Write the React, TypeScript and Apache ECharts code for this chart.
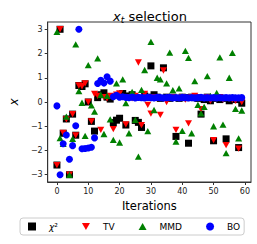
import React, { useEffect, useRef } from 'react';
import * as echarts from 'echarts';

const iterations = [
  0, 1, 2, 3, 4, 5, 6, 7, 8, 9, 10, 11, 12, 13, 14, 15, 16, 17, 18, 19,
  20, 21, 22, 23, 24, 25, 26, 27, 28, 29, 30, 31, 32, 33, 34, 35, 36, 37, 38, 39,
  40, 41, 42, 43, 44, 45, 46, 47, 48, 49, 50, 51, 52, 53, 54, 55, 56, 57, 58, 59,
];

const chi2Values = [
  -2.6, 3.0, -1.29, -0.7, -3.0, -0.5, -1.37, 0.68, 0.64, 0.75,
  0.0, -0.8, -1.2, 0.18, 0.3, 0.38, 0.2, 0.12, -0.85, -0.75,
  -0.67, 0.35, -0.95, 0.25, 0.3, -0.76, -0.84, -1.05, 0.25, 0.2,
  1.49, 0.3, 0.2, 0.15, 1.41, 0.2, 0.15, 0.2, -1.42, 0.15,
  0.2, 0.18, -1.7, 0.2, 0.18, 0.15, -0.5, 0.1, 0.2, 0.05,
  -1.6, 0.15, 0.1, 0.15, -1.52, 0.05, 0.15, 0.1, -1.88, -0.05,
];

const tvValues = [
  -2.6, 3.0, -1.27, -0.72, -3.0, -0.5, -1.38, 0.68, 0.65, 0.77,
  0.0, -0.8, 0.33, 0.25, -1.15, 0.2, 0.15, 0.25, -1.12, 0.3,
  0.35, 0.2, -0.92, 0.2, 0.15, 0.25, 1.63, -0.95, 0.33, -0.12,
  -0.48, 0.2, 0.15, -0.53, 1.3, 0.0, 0.15, 0.2, -1.15, 0.15,
  0.2, 0.1, -0.88, 0.2, 0.25, 0.2, -0.3, 0.15, 0.2, 0.05,
  -1.57, 0.15, 0.2, 0.1, -1.78, 0.15, 0.1, 0.05, -1.92, 0.0,
];

const mmdValues = [
  2.89, -1.49, -1.73, -0.6, -3.0, -1.52, 2.38, 0.45, -0.03, -1.4,
  1.52, -0.14, -0.4, 1.8, 0.3, -1.32, 0.25, -0.72, -1.56, 0.77,
  -1.67, 0.93, -0.05, -1.29, 0.42, -0.74, -2.25, 0.5, 1.32, -1.2,
  2.48, -0.33, 1.0, 0.93, 0.2, 0.77, 2.04, 0.49, -1.63, 0.56,
  -1.19, 2.11, 1.82, -1.29, 0.86, -0.12, -0.47, -0.2, 1.07, 0.25,
  -1.0, 0.38, 1.84, -0.93, -2.11, 1.0, 2.03, -0.28, -1.5, -0.35,
];

const boValues = [
  -0.16, -3.0, -1.72, -1.36, -2.36, -1.8, -0.98, 3.0, -1.93, -1.92,
  -1.9, -1.87, -1.48, 0.76, 0.9, 0.78, 1.04, 0.86, 0.22, 0.28,
  0.2, 0.22, 0.19, 0.18, 0.2, 0.17, 0.19, 0.18, 0.17, 0.19,
  0.18, 0.17, 0.19, 0.18, 0.17, 0.18, 0.19, 0.17, 0.18, 0.17,
  0.19, 0.18, 0.17, 0.18, 0.17, 0.18, 0.19, 0.17, 0.18, 0.17,
  0.18, 0.17, 0.18, 0.17, 0.18, 0.17, 0.18, 0.17, 0.17, 0.18,
];

const xTickValues = [0, 10, 20, 30, 40, 50, 60];
const yTickValues = [-3, -2, -1, 0, 1, 2, 3];

const seriesNames = ['χ²', 'TV', 'MMD', 'BO'];
const seriesColors = ['#000000', '#ff0000', '#008000', '#0000ff'];
const seriesSymbols = ['rect', 'path://M0,0L10,0L5,9Z', 'path://M5,0L10,9L0,9Z', 'circle'];
const seriesSizes = [7, 7, 7, 7];
const seriesValues = [chi2Values, tvValues, mmdValues, boValues];

const FONT = 'DejaVu Sans';
const fmt = (v: number) => String(v).replace('-', '\u2212');

export default function App() {
  const ref = useRef<HTMLDivElement>(null);

  useEffect(() => {
    if (!ref.current) return;
    const chart = echarts.init(ref.current, null, { renderer: 'svg' });
    chart.setOption({
      animation: false,
      backgroundColor: '#ffffff',
      title: {
        text: '{x|x}{t|t}{n| selection}',
        left: 145,
        top: 3,
        textAlign: 'center',
        textStyle: {
          fontFamily: FONT,
          fontSize: 13,
          fontWeight: 'normal',
          color: '#000',
          rich: {
            x: { fontFamily: FONT, fontSize: 13, fontStyle: 'italic', color: '#000', lineHeight: 16, verticalAlign: 'middle' },
            t: { fontFamily: FONT, fontSize: 9, fontStyle: 'italic', color: '#000', lineHeight: 9, verticalAlign: 'bottom' },
            n: { fontFamily: FONT, fontSize: 13, color: '#000', lineHeight: 16, verticalAlign: 'middle' },
          },
        },
      },
      grid: {
        left: 39,
        top: 22,
        width: 212,
        height: 160,
        show: true,
        borderColor: '#333',
        borderWidth: 1,
        containLabel: false,
      },
      legend: {
        left: 20,
        top: 218,
        orient: 'horizontal',
        data: seriesNames.map((name, i) => ({
          name,
          icon: seriesSymbols[i],
          itemStyle: { color: seriesColors[i] },
        })),
        itemWidth: 8,
        itemHeight: 8,
        itemGap: 24,
        padding: [4, 4, 4, 8],
        borderColor: '#cccccc',
        borderWidth: 1,
        borderRadius: 3,
        backgroundColor: '#ffffff',
        formatter: (name: string) => (name === 'χ²' ? '{it|χ}{sup|²}' : '{n|' + name + '}'),
        textStyle: {
          fontFamily: FONT,
          fontSize: 9,
          color: '#000',
          rich: {
            it: { fontFamily: FONT, fontSize: 9, fontStyle: 'italic', color: '#000' },
            sup: { fontFamily: FONT, fontSize: 9, color: '#000', padding: [0, 4, 0, 0] },
            n: { fontFamily: FONT, fontSize: 9, color: '#000' },
          },
          padding: [0, 0, 0, 8],
        },
      },
      xAxis: {
        type: 'value',
        min: -2.95,
        max: 61.95,
        name: 'Iterations',
        nameLocation: 'middle',
        nameGap: 17,
        nameTextStyle: { fontFamily: FONT, fontSize: 11.5, color: '#000' },
        splitLine: { show: false },
        axisLine: { show: true, onZero: false, lineStyle: { color: '#333', width: 1 } },
        axisTick: { show: true, inside: false, length: 3, lineStyle: { color: '#333' }, customValues: xTickValues },
        axisLabel: {
          show: true,
          margin: 5,
          fontFamily: FONT,
          fontSize: 8,
          color: '#222',
          customValues: xTickValues,
          formatter: fmt,
        },
      },
      yAxis: {
        type: 'value',
        min: -3.3,
        max: 3.3,
        name: 'x',
        nameLocation: 'middle',
        nameGap: 24,
        nameRotate: 90,
        nameTextStyle: { fontFamily: FONT, fontSize: 12, fontStyle: 'italic', color: '#000' },
        splitLine: { show: false },
        axisLine: { show: true, onZero: false, lineStyle: { color: '#333', width: 1 } },
        axisTick: { show: true, inside: false, length: 3, lineStyle: { color: '#333' }, customValues: yTickValues },
        axisLabel: {
          show: true,
          margin: 5,
          fontFamily: FONT,
          fontSize: 8,
          color: '#222',
          customValues: yTickValues,
          formatter: fmt,
        },
      },
      series: seriesNames.map((name, i) => ({
        name,
        type: 'scatter',
        symbol: seriesSymbols[i],
        symbolSize: seriesSizes[i],
        symbolKeepAspect: true,
        itemStyle: { color: seriesColors[i], opacity: 1 },
        emphasis: { disabled: true },
        data: iterations.map((it, j) => [it, seriesValues[i][j]]),
      })),
    });
    return () => chart.dispose();
  }, []);

  return (
    <div
      ref={ref}
      style={{ position: 'fixed', left: 0, top: 0, width: 257, height: 244 }}
    />
  );
}
